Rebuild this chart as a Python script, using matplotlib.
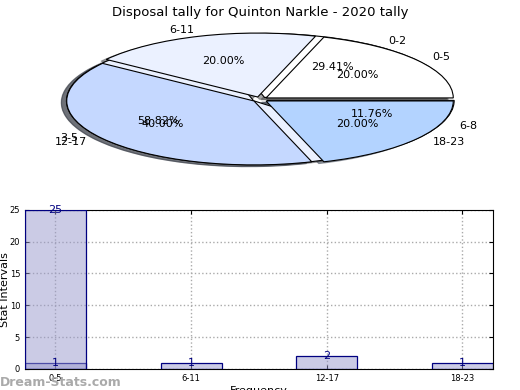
import numpy as np
import matplotlib
matplotlib.use("Agg")
import matplotlib.pyplot as plt

# Data
title = "Disposal tally for Quinton Narkle - 2020 tally"

pie1_labels = ["0-2", "3-5", "6-8"]
pie1_values = [5, 10, 2]

pie2_labels = ["0-5", "6-11", "12-17", "18-23"]
pie2_values = [1, 1, 2, 1]

bar_labels = ["0-5", "6-11", "12-17", "18-23"]
bar_values = [1, 1, 2, 1]
bar_extra_labels = ["0-5"]
bar_extra_values = [25]

pie_colors = ["#ffffff", "#ebf1ff", "#c5d8ff", "#b3d3ff"]

fig = plt.figure(figsize=(5.2, 3.9), dpi=100)
fig.suptitle(title, fontsize=9.5, y=0.985)

# Pie (stretched oval)
ax_pie = fig.add_axes([0.05, 0.54, 0.9, 0.41])
for vals, labs in [(pie1_values, pie1_labels), (pie2_values, pie2_labels)]:
    ax_pie.pie(
        vals,
        labels=labs,
        colors=pie_colors[: len(vals)],
        explode=[0.04] * len(vals),
        autopct="%.2f%%",
        pctdistance=0.6,
        labeldistance=1.1,
        startangle=0,
        shadow=True,
        wedgeprops=dict(edgecolor="black", linewidth=0.8),
        textprops=dict(fontsize=8),
    )
ax_pie.set_aspect("auto")
ax_pie.set_xlim(-1.25, 1.25)
ax_pie.set_ylim(-1.25, 1.25)
ax_pie.axis("off")

# Bars
ax = fig.add_axes([0.048, 0.054, 0.9, 0.408])
pos = {lab: i for i, lab in enumerate(bar_labels)}
x = np.arange(len(bar_labels))
fill = (0.6, 0.6, 0.8, 0.5)
ax.bar(x, bar_values, width=0.45, color=fill,
       edgecolor="#000080", linewidth=0.9, zorder=3)
xe = [pos[l] for l in bar_extra_labels]
ax.bar(xe, bar_extra_values, width=0.45, color=fill,
       edgecolor="#000080", linewidth=0.9, zorder=3)
for xi, v in zip(x, bar_values):
    ax.text(xi, v, str(v), ha="center", va="center", color="#000080", fontsize=8, zorder=4)
for xi, v in zip(xe, bar_extra_values):
    ax.text(xi, v, str(v), ha="center", va="center", color="#000080", fontsize=8, zorder=4)

ax.set_xlim(-0.225, len(bar_labels) - 1 + 0.225)
ax.set_ylim(0, 25)
ax.set_xticks(x)
ax.set_xticklabels(bar_labels, fontsize=6)
ax.set_yticks(range(0, 26, 5))
ax.tick_params(axis="y", labelsize=6, direction="in", right=True, length=3)
ax.tick_params(axis="x", direction="in", top=True, length=3)
ax.grid(True, linestyle=":", color="#aaaaaa", linewidth=1)
ax.set_axisbelow(True)
ax.set_xlabel("Frequency", fontsize=8, labelpad=2)
ax.set_ylabel("Stat Intervals", fontsize=8)
ax.yaxis.set_label_coords(-0.033, 0.5)

fig.text(0.0, 0.01, "Dream-Stats.com", color="#aaaaaa", fontsize=9, fontweight="bold")

fig.savefig("out.png", dpi=100)
